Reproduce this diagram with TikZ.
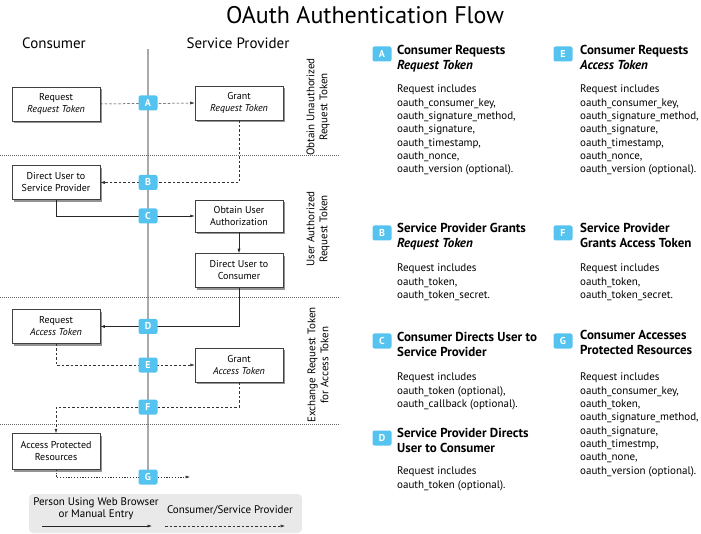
\documentclass[tikz,border=0pt]{standalone}
\usepackage{fontspec}
\setmainfont{PT Sans}
\usetikzlibrary{arrows.meta,shadows,positioning,calc}
\definecolor{badgeblue}{HTML}{55C3EF}
\definecolor{laneline}{HTML}{AAAAAA}
\definecolor{legendfill}{HTML}{E9E9E9}
\tikzset{
  stepbox/.style={draw=black!75,line width=0.5pt,fill=white,minimum width=88pt,minimum height=34pt,
    align=center,font=\fontsize{10}{12}\selectfont,inner sep=1pt,
    drop shadow={shadow xshift=1.8pt,shadow yshift=-2.2pt,fill=black!60,opacity=0.7}},
  badge/.style={fill=badgeblue,rounded corners=2pt,minimum width=19pt,minimum height=15pt,inner sep=0pt,
    text=white,font=\fontsize{10}{10}\selectfont\bfseries},
  tip/.style={-{Latex[length=4.5pt,width=3pt]}},
  flowdash/.style={black!80,line width=0.5pt,dash pattern=on 2.5pt off 2pt},
  flowsolid/.style={black!85,line width=0.6pt},
  flowdot/.style={black!80,line width=0.5pt,dash pattern=on 1.3pt off 1.5pt},
  sep/.style={black!60,line width=0.5pt,dash pattern=on 0.8pt off 1.2pt},
  phase/.style={rotate=90,align=center,font=\fontsize{11}{13}\selectfont},
  heading/.style={anchor=north west,align=left,font=\fontsize{13}{15.5}\selectfont\bfseries,inner sep=0pt},
  body/.style={anchor=north west,align=left,font=\fontsize{11}{13.3}\selectfont,inner sep=0pt},
  lanehead/.style={font=\fontsize{15}{17}\selectfont},
}
\begin{document}
\begin{tikzpicture}[x=1pt,y=-1pt]
\useasboundingbox (0,0) rectangle (701,534);
% title
\node[font=\fontsize{24}{28}\selectfont] (title) at (365,15) {OAuth Authentication Flow};
% lane headings
\node[lanehead] (consumer) at (54,43) {Consumer};
\node[lanehead] (provider) at (238,43) {Service Provider};
% lane line
\coordinate (laneTop) at (148,49);
\coordinate (laneBot) at (148,477);
\draw[laneline,line width=1.2pt] (laneTop) -- (laneBot);
% separators
\coordinate (s1a) at (0,155); \coordinate (s1b) at (340,155);
\coordinate (s2a) at (0,297); \coordinate (s2b) at (340,297);
\coordinate (s3a) at (0,424); \coordinate (s3b) at (340,424);
\draw[sep] (s1a) -- (s1b);
\draw[sep] (s2a) -- (s2b);
\draw[sep] (s3a) -- (s3b);
% phase labels
\node[phase] (ph1) at (318,107) {Obtain Unauthorized\\Request Token};
\node[phase] (ph2) at (318,229) {User Authorized\\Request Token};
\node[phase] (ph3) at (318,365) {Exchange Request Token\\for Access Token};
% boxes
\node[stepbox] (reqRT) at (56,104) {Request\\\textit{Request Token}};
\node[stepbox] (grantRT) at (239,103) {Grant\\\textit{Request Token}};
\node[stepbox] (dusp) at (56,182.5) {Direct User to\\Service Provider};
\node[stepbox,minimum height=32pt] (oua) at (239,216) {Obtain User\\Authorization};
\node[stepbox] (duc) at (239,270.5) {Direct User to\\Consumer};
\node[stepbox] (rat) at (56,326.5) {Request\\\textit{Access Token}};
\node[stepbox] (gat) at (239,365) {Grant\\\textit{Access Token}};
\node[stepbox,minimum height=36pt] (apr) at (56,451.5) {Access Protected\\Resources};
% connectors
\draw[flowdash,tip] (reqRT.east) -- (grantRT.west);
\draw[flowdash,tip] (grantRT.south) |- (dusp.east);
\draw[flowsolid,tip] (dusp.south) |- (oua.west);
\draw[flowsolid,tip] (oua.south) -- (duc.north);
\draw[flowsolid,tip] (duc.south) |- (rat.east);
\draw[flowdash,tip] (rat.south) |- (gat.west);
\coordinate (fturn) at (56,407);
\draw[flowdash,tip] (gat.south) |- (fturn) -- (apr.north);
\coordinate (gend) at (190,477);
\draw[flowdot,tip] (apr.south) |- (gend);
% badges on the lane
\node[badge] (bA) at (148,103) {A};
\node[badge] (bB) at (148,182.5) {B};
\node[badge] (bC) at (148,216) {C};
\node[badge] (bD) at (148,326.5) {D};
\node[badge] (bE) at (148,365) {E};
\node[badge] (bF) at (148,407) {F};
\node[badge] (bG) at (148,477) {G};
% legend
\fill[legendfill,rounded corners=4pt] (29,494) rectangle (302,533);
\node[font=\fontsize{11}{12}\selectfont,align=center] (lg1) at (96,509) {Person Using Web Browser\\or Manual Entry};
\node[font=\fontsize{11}{12}\selectfont] (lg2) at (230,510) {Consumer/Service Provider};
\coordinate (ls1) at (42,526); \coordinate (ls2) at (152,526);
\coordinate (ld1) at (165,526); \coordinate (ld2) at (285,526);
\draw[flowsolid,tip] (ls1) -- (ls2);
\draw[flowdash,tip] (ld1) -- (ld2);
% right column: descriptions
\node[badge] (rA) at (382,54) {A};
\node[heading] (hA) at (397,45) {Consumer Requests\\\textit{Request Token}};
\node[body] (tA) at (397,85) {Request includes\\oauth\_consumer\_key,\\oauth\_signature\_method,\\oauth\_signature,\\oauth\_timestamp,\\oauth\_nonce,\\oauth\_version (optional).};
\node[badge] (rE) at (563,54) {E};
\node[heading] (hE) at (580,45) {Consumer Requests\\\textit{Access Token}};
\node[body] (tE) at (580,85) {Request includes\\oauth\_consumer\_key,\\oauth\_signature\_method,\\oauth\_signature,\\oauth\_timestamp,\\oauth\_nonce,\\oauth\_version (optional).};
\node[badge] (rB) at (382,233) {B};
\node[heading] (hB) at (397,223) {Service Provider Grants\\\textit{Request Token}};
\node[body] (tB) at (397,264) {Request includes\\oauth\_token,\\oauth\_token\_secret.};
\node[badge] (rF) at (563,233) {F};
\node[heading] (hF) at (580,223) {Service Provider\\Grants Access Token};
\node[body] (tF) at (580,264) {Request includes\\oauth\_token,\\oauth\_token\_secret.};
\node[badge] (rC) at (382,341) {C};
\node[heading] (hC) at (397,332) {Consumer Directs User to\\Service Provider};
\node[body] (tC) at (397,373) {Request includes\\oauth\_token (optional),\\oauth\_callback (optional).};
\node[badge] (rD) at (382,438) {D};
\node[heading] (hD) at (397,428) {Service Provider Directs\\User to Consumer};
\node[body] (tD) at (397,467) {Request includes\\oauth\_token (optional).};
\node[badge] (rG) at (563,341) {G};
\node[heading] (hG) at (580,330) {Consumer Accesses\\Protected Resources};
\node[body] (tG) at (580,373) {Request includes\\oauth\_consumer\_key,\\oauth\_token,\\oauth\_signature\_method,\\oauth\_signature,\\oauth\_timestmp,\\oauth\_none,\\oauth\_version (optional).};
\end{tikzpicture}
\end{document}
